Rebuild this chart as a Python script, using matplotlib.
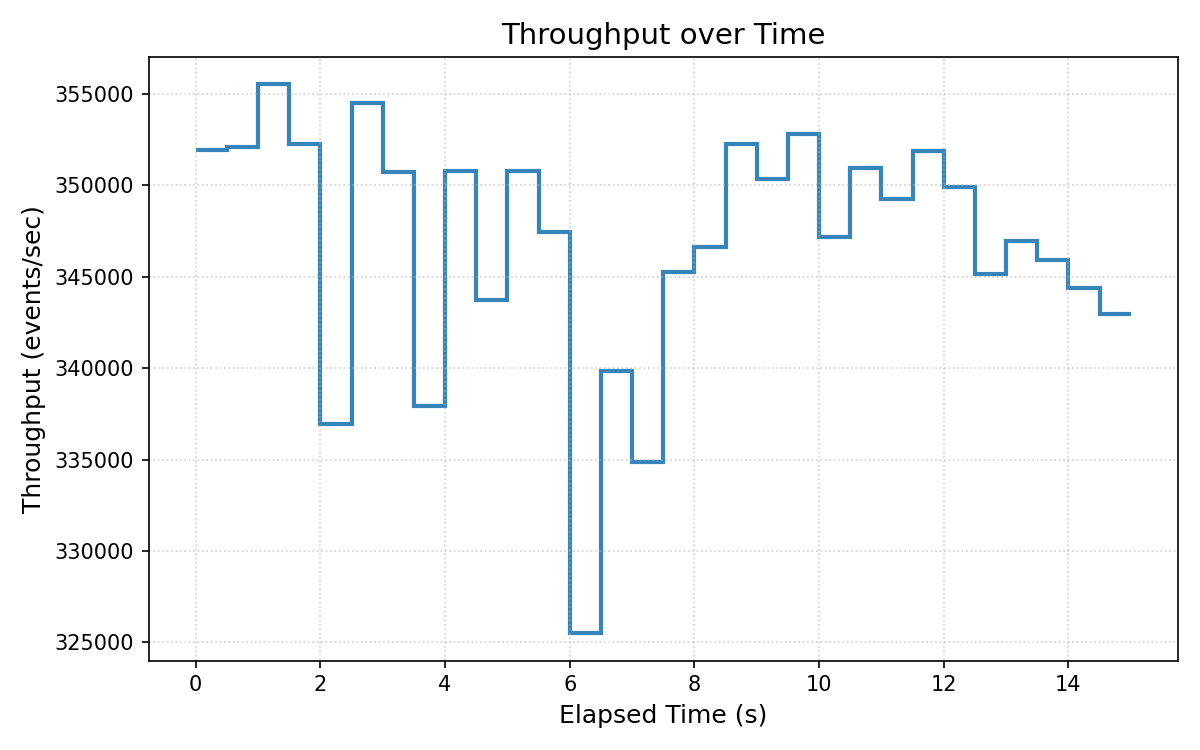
import numpy as np
import matplotlib.pyplot as plt

# throughput per 0.5 s interval (events/sec)
interval_start = [0.0, 0.5, 1.0, 1.5, 2.0, 2.5, 3.0, 3.5, 4.0, 4.5,
                  5.0, 5.5, 6.0, 6.5, 7.0, 7.5, 8.0, 8.5, 9.0, 9.5,
                  10.0, 10.5, 11.0, 11.5, 12.0, 12.5, 13.0, 13.5, 14.0, 14.5]
throughput = [351960, 352100, 355530, 352290, 336930, 354540, 350750, 337920,
              350800, 343710, 350800, 347430, 325500, 339830, 334880, 345260,
              346610, 352280, 350350, 352830, 347180, 350960, 349240, 351910,
              349940, 345180, 346950, 345900, 344370, 342940]
end_time = 15.0

fig, ax = plt.subplots(figsize=(8, 5), dpi=150)

edges = interval_start + [end_time]
ax.stairs(throughput, edges, baseline=None, color='#1f77b4', alpha=0.9, linewidth=2)

ax.set_title("Throughput over Time", fontsize=14)
ax.set_xlabel("Elapsed Time (s)", fontsize=12)
ax.set_ylabel("Throughput (events/sec)", fontsize=12)
ax.grid(True, linestyle=':', alpha=0.6)

plt.tight_layout()
plt.savefig("out.png")
